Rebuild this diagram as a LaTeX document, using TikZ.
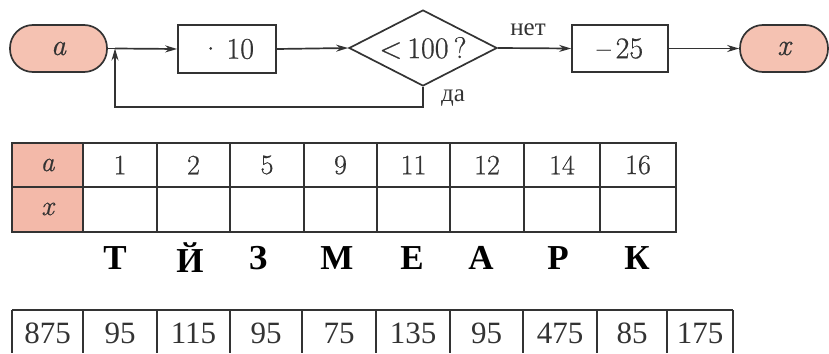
\documentclass[tikz,border=0pt]{standalone}
\usepackage{fontspec}
\setmainfont{Liberation Serif}
\newfontfamily\lmr[FakeBold=0.6]{Latin Modern Roman}
\usetikzlibrary{shapes.geometric,arrows.meta}
\definecolor{pinkfill}{HTML}{F5C2B2}
\definecolor{cellpink}{HTML}{F3B9A9}
\definecolor{ink}{HTML}{333333}
\tikzset{
  every node/.style={font=\lmr\fontsize{30}{32}\selectfont, text=ink},
  lnk/.style={draw=ink, line width=1.7pt, -{Stealth[length=12pt,width=7pt]}},
  term/.style={draw=ink, line width=1.7pt, fill=pinkfill, rounded corners=23pt, inner sep=0pt},
  opbox/.style={draw=ink, line width=1.7pt, fill=white, inner sep=0pt},
  cond/.style={draw=ink, line width=1.7pt, shape=diamond, aspect=2, inner sep=0pt, minimum width=148pt, minimum height=76pt},
  lbl/.style={font=\fontsize{25}{27}\selectfont},
  grid/.style={draw=ink, line width=1.8pt},
  cell/.style={font=\lmr\fontsize{28}{30}\selectfont},
  letter/.style={font=\fontsize{35}{37}\selectfont\bfseries, text=black},
  num/.style={font=\fontsize{31}{33}\selectfont}
}
\begin{document}
\begin{tikzpicture}[x=1pt,y=-1pt]
\useasboundingbox (0,0) rectangle (829,353);
% flowchart
\node[term, minimum width=97pt, minimum height=47pt] (a) at (58.5,48.5) {\itshape a};
\node[opbox, minimum width=98pt, minimum height=48pt] (m) at (227,49) {·\,10};
\node[cond] (d) at (423,48) {<\,100\,?};
\node[opbox, minimum width=96pt, minimum height=47pt] (s) at (620,48.5) {–\,25};
\node[term, minimum width=88pt, minimum height=47pt] (x) at (784,48.5) {\itshape x};
\coordinate (j) at (115,48.5);
\draw[draw=ink, line width=1.7pt] (a.east) -- (j);
\draw[lnk] (j) -- (m.west);
\draw[lnk] (m.east) -- (d.west);
\draw[lnk] (d.east) -- (s.west);
\draw[lnk] (s.east) -- (x.west);
\draw[lnk] (d.south) -- (d.south |- 0,107) -| (j);
\node[lbl] (no) at (528,30) {нет};
\node[lbl] (yes) at (453,98) {да};
% first table
\fill[cellpink] (12,143) rectangle (83,232);
\draw[grid] (12,143) rectangle (676,232);
\draw[grid] (12,187) -- (676,187);
\foreach \xx in {83,157,230,304,377,450,524,600} \draw[grid] (\xx,143) -- (\xx,232);
\node[cell] (ha) at (47.5,165) {\itshape a};
\node[cell] (hx) at (47.5,209) {\itshape x};
\foreach \v/\c in {1/120,2/193.5,5/267,9/340.5,11/413.5,12/487,14/562,16/638}
  \node[cell] (v\v) at (\c,165) {\v};
% letters
\foreach \L/\c [count=\i] in {Т/115,Й/190,З/258,М/337,Е/412,А/481,Р/558,К/637}
  \node[letter] (l\i) at (\c,258) {\L};
% bottom table
\draw[grid] (12,310) -- (733,310);
\foreach \xx in {12,83,157,230,302,376,450,523,597,667,733} \draw[grid] (\xx,310) -- (\xx,353);
\foreach \v/\c [count=\i] in {875/47.5,95/120,115/193.5,95/266,75/339,135/413,95/486.5,475/560,85/632,175/700}
  \node[num] (n\i) at (\c,333) {\v};
\end{tikzpicture}
\end{document}
